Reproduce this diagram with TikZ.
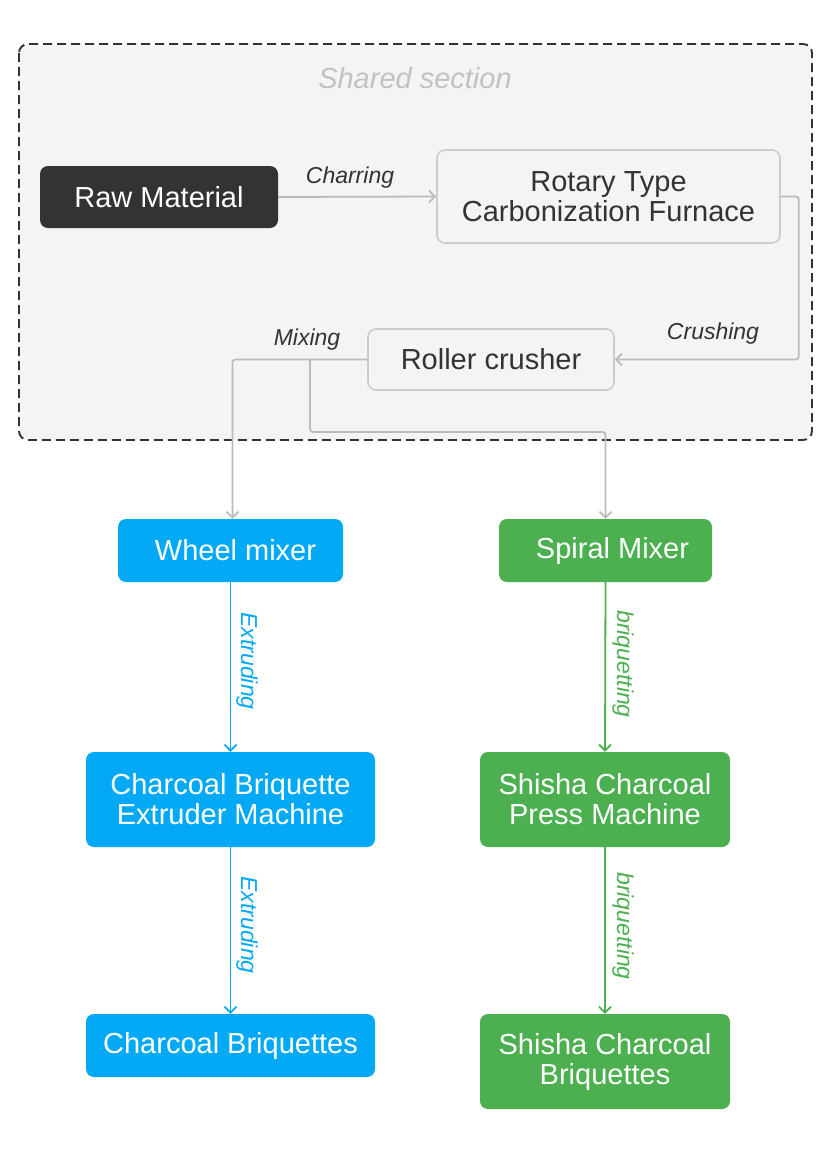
\documentclass[tikz,border=0pt]{standalone}
\usepackage{fontspec}
\setmainfont{Liberation Sans}
\usetikzlibrary{arrows.meta}
\definecolor{cblue}{HTML}{03A9F4}
\definecolor{cgreen}{HTML}{4CAF50}
\definecolor{cdark}{HTML}{333333}
\definecolor{cline}{HTML}{BBBBBB}
\definecolor{cborder}{HTML}{CCCCCC}
\definecolor{cfill}{HTML}{F4F4F4}
\definecolor{csec}{HTML}{C2C2C2}
\tikzset{
  box/.style={rounded corners=8pt, inner sep=0pt, align=center,
    font=\fontsize{29}{30}\selectfont},
  darkbox/.style={box, fill=cdark, text=white},
  lightbox/.style={box, fill=cfill, draw=cborder, line width=1.6pt, text=cdark},
  bluebox/.style={box, fill=cblue, text=white},
  greenbox/.style={box, fill=cgreen, text=white},
  conn/.style={line width=1.8pt, rounded corners=3pt,
    -{Straight Barb[length=6pt,width=12pt,line width=1.8pt]}},
  lbl/.style={inner sep=0pt, font=\fontsize{23}{24}\selectfont\itshape},
}
\begin{document}
\begin{tikzpicture}[x=1pt,y=-1pt]
\useasboundingbox (0,0) rectangle (830,1156);
\fill[white] (0,0) rectangle (830,1156);
% shared section
\draw[fill=cfill, draw=cdark, line width=1.9pt, dash pattern=on 9pt off 5pt,
  rounded corners=9pt] (19,44) rectangle (812,440);
\node[lbl, text=csec, font=\fontsize{29}{30}\selectfont\itshape] (sec) at (415,78) {Shared section};
% nodes
\node[darkbox, minimum width=238pt, minimum height=62pt] (raw) at (159,197) {Raw Material};
\node[lightbox, minimum width=343pt, minimum height=93pt] (rot) at (608.5,196.5) {Rotary Type\\Carbonization Furnace};
\node[lightbox, minimum width=246pt, minimum height=61pt] (roll) at (491,359.5) {Roller crusher};
\node[bluebox, minimum width=225pt, minimum height=63pt] (wheel) at (230.5,550.5) {\hspace*{10pt}Wheel mixer};
\node[greenbox, minimum width=213pt, minimum height=63pt] (spiral) at (605.5,550.5) {\hspace*{14pt}Spiral Mixer};
\node[bluebox, minimum width=289pt, minimum height=95pt] (ext) at (230.5,799.5) {Charcoal Briquette\\Extruder Machine};
\node[greenbox, minimum width=250pt, minimum height=95pt] (press) at (605,799.5) {Shisha Charcoal\\Press Machine};
\node[bluebox, minimum width=289pt, minimum height=63pt] (cb) at (230.5,1045.5) {Charcoal Briquettes};
\node[greenbox, minimum width=250pt, minimum height=95pt] (scb) at (605,1061.5) {Shisha Charcoal\\Briquettes};
% connectors in shared section
\draw[conn, cline] (raw.east) -- (rot.west);
\node[lbl, text=cdark] (lchar) at (350,178) {Charring};
\draw[conn, cline] (rot.east) -- ++(18,0) |- (roll.east);
\node[lbl, text=cdark] (lcrush) at (713,334) {Crushing};
\draw[conn, cline] (roll.west) -| ([xshift=2pt]wheel.north);
\node[lbl, text=cdark] (lmix) at (307,340) {Mixing};
\coordinate (br) at (310,359.5);
\draw[conn, cline] (br) -- ++(0,72.5) -| (spiral.north);
% lower connectors
\draw[conn, cblue] (wheel.south) -- (ext.north);
\node[lbl, text=cblue, rotate=-90] (lext1) at (247,661) {Extruding};
\draw[conn, cgreen] (spiral.south) -- (press.north);
\node[lbl, text=cgreen, rotate=-90] (lbr1) at (623,664) {briquetting};
\draw[conn, cblue] (ext.south) -- (cb.north);
\node[lbl, text=cblue, rotate=-90] (lext2) at (247,925) {Extruding};
\draw[conn, cgreen] (press.south) -- (scb.north);
\node[lbl, text=cgreen, rotate=-90] (lbr2) at (623,926) {briquetting};
\end{tikzpicture}
\end{document}
